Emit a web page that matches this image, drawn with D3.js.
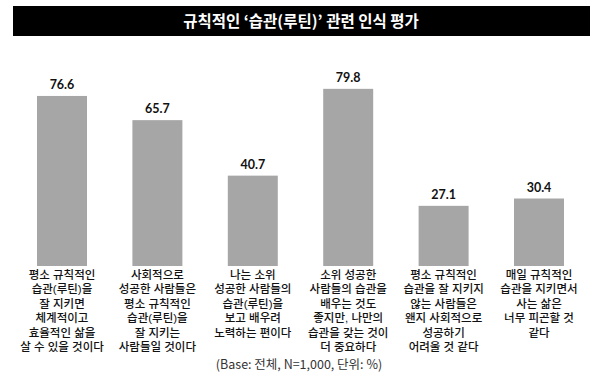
<!DOCTYPE html>
<html><head><meta charset="utf-8">
<script src="https://cdn.jsdelivr.net/npm/d3@7"></script>
<style>
html,body{margin:0;padding:0;background:#fff;}
svg{display:block;}
</style></head>
<body>
<svg id="chart" width="600" height="384"></svg>
<script>
const title = "규칙적인 ‘습관(루틴)’ 관련 인식 평가";
const categories = [
  "평소 규칙적인\n습관(루틴)을\n잘 지키면\n체계적이고\n효율적인 삶을\n살 수 있을 것이다",
  "사회적으로\n성공한 사람들은\n평소 규칙적인\n습관(루틴)을\n잘 지키는\n사람들일 것이다",
  "나는 소위\n성공한 사람들의\n습관(루틴)을\n보고 배우려\n노력하는 편이다",
  "소위 성공한\n사람들의 습관을\n배우는 것도\n좋지만, 나만의\n습관을 갖는 것이\n더 중요하다",
  "평소 규칙적인\n습관을 잘 지키지\n않는 사람들은\n왠지 사회적으로\n성공하기\n어려울 것 같다",
  "매일 규칙적인\n습관을 지키면서\n사는 삶은\n너무 피곤할 것\n같다"
];
const values = [76.6, 65.7, 40.7, 79.8, 27.1, 30.4];
const note = "(Base: 전체, N=1,000, 단위: %)";

const svg = d3.select("#chart");
const kfont = "'Noto Sans CJK KR', 'Noto Sans', sans-serif";
const labfont = "'Liberation Sans', 'Noto Sans CJK KR', sans-serif";

// title bar
svg.append("rect").attr("x", 13).attr("y", 6).attr("width", 577).attr("height", 30).attr("fill", "#000");
svg.append("text").attr("x", 301).attr("y", 26.5).attr("text-anchor", "middle")
  .attr("fill", "#fff").attr("font-family", kfont).attr("font-weight", 700).attr("font-size", 15.5)
  .text(title);

const x = d3.scaleBand().domain(d3.range(categories.length)).range([37, 564]).paddingInner(0.476).paddingOuter(0);
const y = d3.scaleLinear().domain([0, 100]).range([266, 44]);

svg.selectAll("rect.bar").data(values).join("rect").attr("class", "bar")
  .attr("x", (d, i) => x(i)).attr("width", x.bandwidth())
  .attr("y", d => y(d)).attr("height", d => y(0) - y(d))
  .attr("fill", "#a6a6a6");

svg.selectAll("text.val").data(values).join("text").attr("class", "val")
  .attr("x", (d, i) => x(i) + x.bandwidth() / 2).attr("y", d => y(d) - 7)
  .attr("text-anchor", "middle").attr("font-family", "Lato, 'Open Sans', sans-serif")
  .attr("font-weight", 700).attr("font-size", 12.5).attr("fill", "#111")
  .text(d => d.toFixed(1));

const lab = svg.selectAll("text.cat").data(categories).join("text").attr("class", "cat")
  .attr("x", (d, i) => x(i) + x.bandwidth() / 2).attr("y", 279)
  .attr("text-anchor", "middle").attr("font-family", labfont).attr("font-size", 11.5)
  .attr("font-weight", 500).attr("fill", "#111");
lab.each(function(d) {
  const t = d3.select(this);
  const cx = t.attr("x");
  d.split("\n").forEach((line, j) => {
    t.append("tspan").attr("x", cx).attr("dy", j === 0 ? 0 : 14.4).text(line);
  });
});

svg.append("text").attr("x", 299).attr("y", 369).attr("text-anchor", "middle")
  .attr("font-family", kfont).attr("font-size", 12.5).attr("fill", "#333").text(note);
</script>
</body></html>
